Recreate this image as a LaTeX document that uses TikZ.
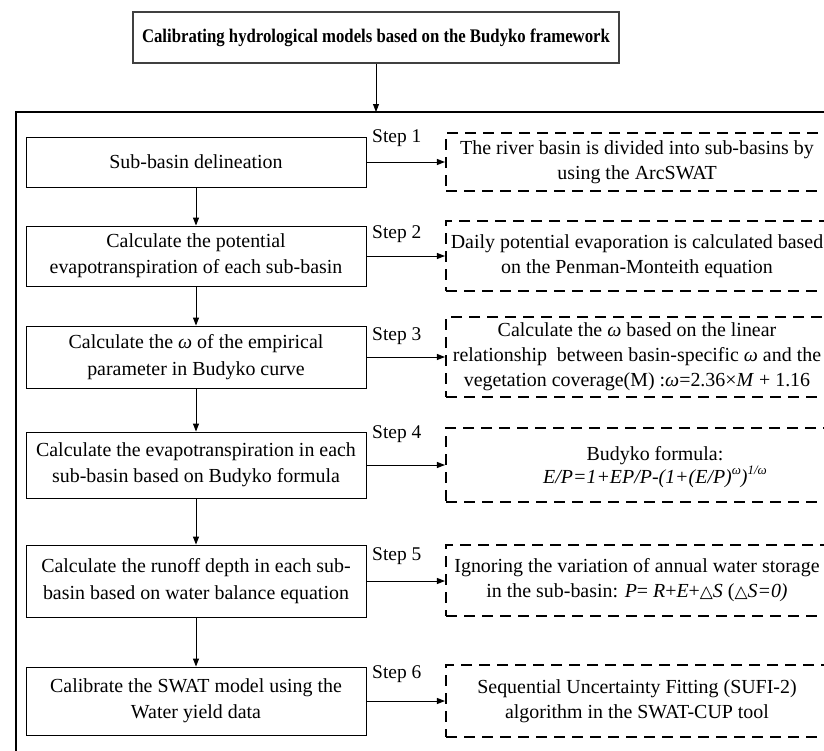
\documentclass[tikz,border=0pt]{standalone}
\usepackage{fontspec}
\setmainfont{Liberation Serif}
\newfontfamily\symfont{DejaVu Sans}
\usetikzlibrary{arrows.meta}
\newcommand{\supr}[1]{\raisebox{0.45em}{\fontsize{13}{13}\selectfont #1}}
\newcommand{\tri}{{\symfont\fontsize{17}{17}\selectfont △}}
\begin{document}
\begin{tikzpicture}[x=1bp,y=-1bp,
  titlebox/.style={draw=black!75, line width=1.1bp, minimum width=486bp, minimum height=51bp, inner sep=0pt, font=\fontsize{16.8}{20}\selectfont\bfseries},
  procbox/.style={draw, line width=0.9bp, minimum width=340bp, align=center, inner sep=0pt, font=\fontsize{20}{26.5}\selectfont},
  notebox/.style={draw, line width=2.1bp, dash pattern=on 11bp off 7bp, minimum width=382bp, align=center, inner sep=0pt, font=\fontsize{20}{25}\selectfont},
  notetext/.style={align=center, inner sep=0pt, font=\fontsize{20}{23}\selectfont},
  steplabel/.style={anchor=base west, inner sep=0pt, font=\fontsize{19.5}{22}\selectfont},
  conn/.style={line width=0.9bp, -{Triangle[length=8bp,width=6bp]}},
  framestyle/.style={line width=2bp}
]
\useasboundingbox (0,0) rectangle (824,751);
\begin{scope}
\clip (0,0) rectangle (824,751);
% title
\node[titlebox] (title) at (376,37.5) {\scalebox{1}[1.15]{Calibrating hydrological models based on the Budyko framework}};
% frame
\coordinate (frameTL) at (16,112);
\coordinate (frameBR) at (860,790);
\draw[framestyle] (frameTL) rectangle (frameBR);
\coordinate (ftop) at (title.south |- frameTL);
\draw[conn] (title.south) -- (ftop);

% process boxes
\node[procbox, minimum height=50bp] (b1) at (196,162) {Sub-basin delineation};
\node[procbox, minimum height=60bp] (b2) at (196,256) {Calculate the potential\\evapotranspiration of each sub-basin};
\node[procbox, minimum height=62bp] (b3) at (196,357) {Calculate the \textit{ω} of the empirical\\parameter in Budyko curve};
\node[procbox, minimum height=66bp] (b4) at (196,465) {Calculate the evapotranspiration in each\\sub-basin based on Budyko formula};
\node[procbox, minimum height=72bp] (b5) at (196,581) {Calculate the runoff depth in each sub-\\basin based on water balance equation};
\node[procbox, minimum height=68bp] (b6) at (196,701) {Calibrate the SWAT model using the\\Water yield data};

\foreach \a/\b in {b1/b2,b2/b3,b3/b4,b4/b5,b5/b6}
  \draw[conn] (\a.south) -- (\b.north);

% note boxes
\node[notebox, minimum height=58bp] (d1) at (637,162) {The river basin is divided into sub-basins by\\using the ArcSWAT};
\node[notebox, minimum height=70bp] (d2) at (637,256) {Daily potential evaporation is calculated based\\on the Penman-Monteith equation};
\node[notebox, minimum height=80bp] (d3) at (637,357) {Calculate the \textit{ω} based on the linear\\relationship\ \ between basin-specific \textit{ω} and the\\vegetation coverage(M) :\textit{ω}=2.36×\textit{M} + 1.16};
\node[notebox, minimum height=74bp] (d4) at (637,465) {};
\node[notetext] (d4t) at (655,467) {Budyko formula:\\\textit{E/P=1+EP/P-(1+(E/P)\supr{ω})\supr{1/ω}}};
\node[notebox, minimum height=71bp] (d5) at (637,580.5) {Ignoring the variation of annual water storage\\in the sub-basin: \textit{P}= \textit{R}+\textit{E}+\tri\textit{S} (\tri\textit{S=0)}};
\node[notebox, minimum height=72bp] (d6) at (637,701) {Sequential Uncertainty Fitting (SUFI-2)\\algorithm in the SWAT-CUP tool};

\foreach \i in {1,...,6}
  \draw[conn] (b\i.east) -- (b\i.east -| d\i.west);

% step labels
\node[steplabel] (s1) at (372,142) {Step 1};
\node[steplabel] (s2) at (372,238) {Step 2};
\node[steplabel] (s3) at (372,340) {Step 3};
\node[steplabel] (s4) at (372,438) {Step 4};
\node[steplabel] (s5) at (372,560) {Step 5};
\node[steplabel] (s6) at (372,678) {Step 6};
\end{scope}
\end{tikzpicture}
\end{document}
